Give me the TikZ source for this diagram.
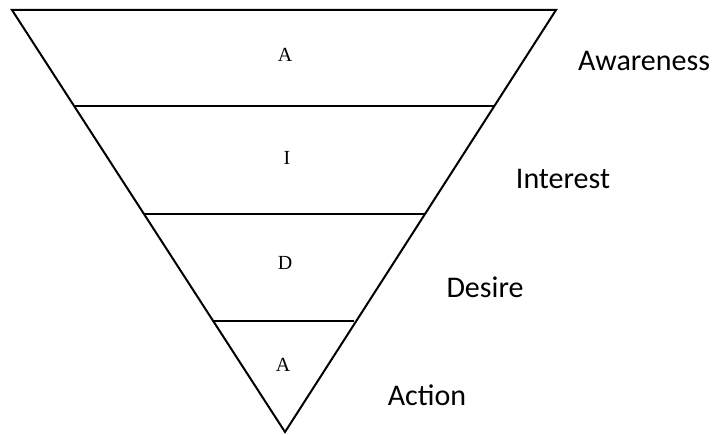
\documentclass[tikz,border=0pt]{standalone}
\usepackage{fontspec}
\setmainfont{Liberation Serif}
\newfontfamily\labelfont{Carlito}
\begin{document}
\begin{tikzpicture}[x=1pt,y=-1pt,line width=2pt,
	letter/.style={font=\fontsize{20}{24}\selectfont},
	stage/.style={font=\labelfont\fontsize{30}{36}\selectfont}]
	\useasboundingbox (0,0) rectangle (714,435);
	
	% Funnel
	\coordinate (topL) at (12,10);
	\coordinate (topR) at (556,10);
	\coordinate (tip) at (285,432);
	\draw (topL) -- (topR) -- (tip) -- cycle;
	
	% Layer lines
	\coordinate (l1L) at (74,106);
	\coordinate (l1R) at (494,106);
	\coordinate (l2L) at (144,214);
	\coordinate (l2R) at (425,214);
	\coordinate (l3L) at (213,321);
	\coordinate (l3R) at (354,321);
	\draw (l1L) -- (l1R);
	\draw (l2L) -- (l2R);
	\draw (l3L) -- (l3R);
	
	% Letters
	\node[letter] (aw) at (285,55) {A};
	\node[letter] (in) at (287,158) {I};
	\node[letter] (de) at (285,263) {D};
	\node[letter] (ac) at (283,365) {A};
	
	% Stage labels
	\node[stage] (awareness) at (644,61) {Awareness};
	\node[stage] (interest) at (563,179) {Interest};
	\node[stage] (desire) at (485,287) {Desire};
	\node[stage] (action) at (427,395) {Action};
\end{tikzpicture}
\end{document}
